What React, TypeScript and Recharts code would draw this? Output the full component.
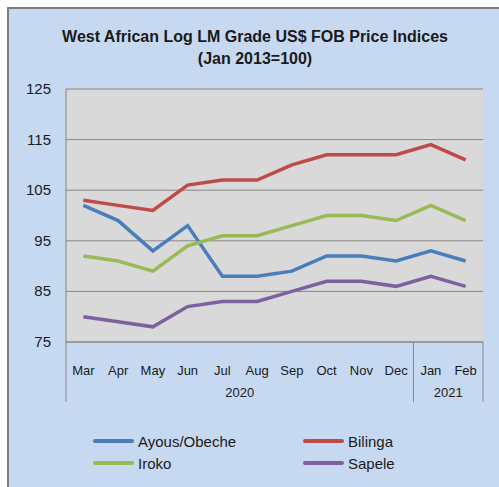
import { LineChart, Line, XAxis, YAxis, CartesianGrid } from "recharts";

// categories (two-level axis: month + year)
const months = ["Mar", "Apr", "May", "Jun", "Jul", "Aug", "Sep", "Oct", "Nov", "Dec", "Jan", "Feb"];
const years = ["2020", "2020", "2020", "2020", "2020", "2020", "2020", "2020", "2020", "2020", "2021", "2021"];

// index values, Jan 2013 = 100
const ayous = [102, 99, 93, 98, 88, 88, 89, 92, 92, 91, 93, 91];
const bilinga = [103, 102, 101, 106, 107, 107, 110, 112, 112, 112, 114, 111];
const iroko = [92, 91, 89, 94, 96, 96, 98, 100, 100, 99, 102, 99];
const sapele = [80, 79, 78, 82, 83, 83, 85, 87, 87, 86, 88, 86];

const yTicks = [75, 85, 95, 105, 115, 125];

const seriesNames = ["Ayous/Obeche", "Bilinga", "Iroko", "Sapele"];
const seriesKeys = ["ayous", "bilinga", "iroko", "sapele"];
const seriesColors = ["#4A7EBB", "#BE4B48", "#98B954", "#7D60A0"];

const data = months.map((m, i) => ({
  month: m,
  ayous: ayous[i],
  bilinga: bilinga[i],
  iroko: iroko[i],
  sapele: sapele[i],
}));

// layout
const W = 490;
const H = 478;
const MARGIN = { top: 80, right: 16, left: 0, bottom: 85 };
const Y_AXIS_W = 57;
const PLOT_W = W - MARGIN.left - MARGIN.right - Y_AXIS_W;
const HALF = PLOT_W / months.length / 2;

const FONT = "'Liberation Sans', Arial, sans-serif";
const AXIS_GRAY = "#868686";

function YTick({ x, y, payload }: any) {
  return (
    <text x={x} y={y} dy={5} textAnchor="end" fontSize={15} fill="#1a1a1a" fontFamily={FONT}>
      {payload.value}
    </text>
  );
}

// month label + year groups with separators
function MonthTick({ x, y, payload, index }: any) {
  const i = index;
  const first = i === 0 || years[i] !== years[i - 1];
  const last = i === months.length - 1;
  let n = 0;
  if (first) while (i + n < years.length && years[i + n] === years[i]) n++;
  return (
    <g>
      <text x={x} y={y + 33} textAnchor="middle" fontSize={13} fill="#1a1a1a" fontFamily={FONT}>
        {payload.value}
      </text>
      {first && (
        <>
          <line x1={x - HALF} x2={x - HALF} y1={y} y2={y + 60} stroke={AXIS_GRAY} strokeWidth={1} />
          <text x={x - HALF + n * HALF} y={y + 55} textAnchor="middle" fontSize={13} fill="#1a1a1a" fontFamily={FONT}>
            {years[i]}
          </text>
        </>
      )}
      {last && <line x1={x + HALF} x2={x + HALF} y1={y} y2={y + 60} stroke={AXIS_GRAY} strokeWidth={1} />}
    </g>
  );
}

export default function App() {
  return (
    <div
      style={{
        position: "absolute",
        left: 7,
        top: 7,
        width: 492,
        height: 480,
        boxSizing: "border-box",
        borderTop: "2px solid #7f7f7f",
        borderLeft: "2px solid #7f7f7f",
        background: "#C6D9F1",
        fontFamily: FONT,
      }}
    >
      <div
        style={{
          position: "absolute",
          left: 0,
          top: 17,
          width: 492,
          textAlign: "center",
          fontWeight: "bold",
          fontSize: 16,
          lineHeight: "22px",
          color: "#1a1a1a",
        }}
      >
        West African Log LM Grade US$ FOB Price Indices
        <br />
        (Jan 2013=100)
      </div>

      <div style={{ position: "absolute", left: 0, top: 0 }}>
        <LineChart width={W} height={H} data={data} margin={MARGIN}>
          <CartesianGrid vertical={false} stroke={AXIS_GRAY} fill="#D9D9D9" fillOpacity={1} />
          <XAxis
            dataKey="month"
            padding={{ left: HALF, right: HALF }}
            axisLine={{ stroke: AXIS_GRAY }}
            tickLine={false}
            tickSize={0}
            tickMargin={0}
            interval={0}
            height={60}
            tick={<MonthTick />}
          />
          <YAxis
            domain={[75, 125]}
            ticks={yTicks}
            width={Y_AXIS_W}
            axisLine={{ stroke: AXIS_GRAY }}
            tickLine={false}
            tickSize={0}
            tickMargin={15}
            tick={<YTick />}
          />
          {seriesKeys.map((k, i) => (
            <Line
              key={k}
              dataKey={k}
              name={seriesNames[i]}
              stroke={seriesColors[i]}
              strokeWidth={3.5}
              dot={false}
              activeDot={false}
              isAnimationActive={false}
            />
          ))}
        </LineChart>
      </div>

      {/* legend, two columns */}
      <div
        style={{
          position: "absolute",
          left: 84,
          top: 421,
          display: "grid",
          gridTemplateColumns: "210px 150px",
          gridAutoRows: "22px",
        }}
      >
        {seriesNames.map((name, i) => (
          <div key={name} style={{ display: "flex", alignItems: "center", fontSize: 15, color: "#1a1a1a" }}>
            <span
              style={{
                display: "inline-block",
                width: 41,
                height: 4,
                borderRadius: 2,
                background: seriesColors[i],
                marginRight: 4,
              }}
            />
            {name}
          </div>
        ))}
      </div>
    </div>
  );
}
